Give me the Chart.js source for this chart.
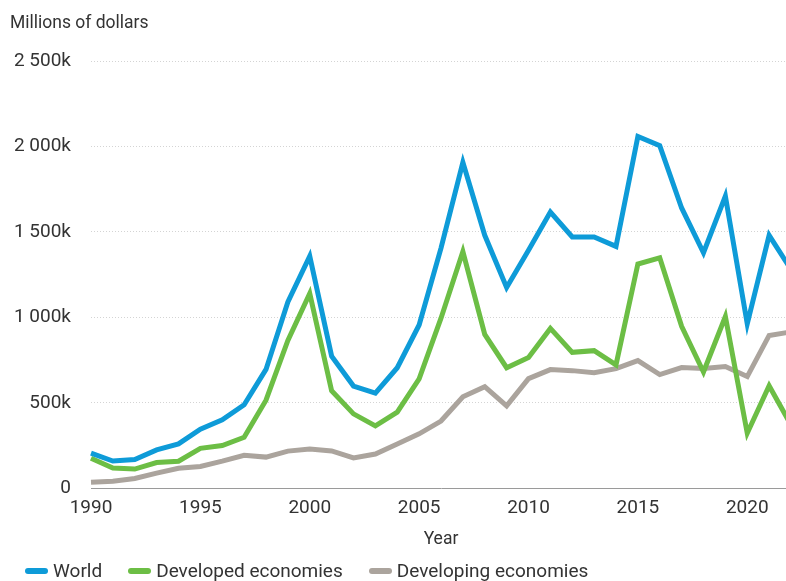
<!DOCTYPE html>
<html>
<head>
<meta charset="utf-8">
<script src="https://cdn.jsdelivr.net/npm/chart.js@4"></script>
<style>
  html, body { margin: 0; padding: 0; background: #fff; overflow: hidden; }
  #wrap { position: relative; width: 800px; height: 581px; }
  #legend { position: absolute; left: 25px; top: 559px; display: flex; font: 19px Roboto, sans-serif; color: #333; white-space: nowrap; }
  .item { display: flex; align-items: center; margin-right: 26px; }
  .swatch { width: 23px; height: 6px; border-radius: 3px; margin-right: 5px; }
</style>
</head>
<body>
<div id="wrap">
  <canvas id="c"></canvas>
  <div id="legend"></div>
</div>
<script>
// FDI inflows, millions of dollars (values in thousands of millions)
const years = [1990,1991,1992,1993,1994,1995,1996,1997,1998,1999,2000,2001,2002,2003,2004,2005,2006,2007,2008,2009,2010,2011,2012,2013,2014,2015,2016,2017,2018,2019,2020,2021,2022];
const world = [205,159,168,224,259,345,400,488,695,1090,1358,773,598,556,705,955,1405,1907,1480,1175,1393,1616,1470,1470,1415,2058,2005,1640,1378,1710,962,1480,1280];
const developed = [175,118,112,150,158,233,250,298,515,865,1140,570,435,365,445,640,995,1385,900,705,765,935,795,805,722,1312,1348,948,680,1005,322,600,370];
const developing = [35,41,57,88,117,127,158,193,182,217,229,218,177,200,259,318,393,535,594,482,641,694,688,676,700,747,665,706,700,712,653,894,915];
const yTicks = [0, 500, 1000, 1500, 2000, 2500];

const seriesNames = ['World', 'Developed economies', 'Developing economies'];
const seriesColors = ['#0e9bd8', '#6cbe45', '#aba49d'];

const fmt = v => v === 0 ? '0' : String(v).replace(/\B(?=(\d{3})+(?!\d))/g, ' ') + 'k';

const chart = new Chart(document.getElementById('c'), {
  type: 'line',
  data: {
    labels: years,
    datasets: [world, developed, developing].map((d, i) => ({
      label: seriesNames[i],
      data: d,
      borderColor: seriesColors[i],
      backgroundColor: seriesColors[i],
      borderWidth: 5,
      pointRadius: 0,
      tension: 0,
      fill: false
    }))
  },
  options: {
    responsive: true,
    maintainAspectRatio: false,
    animation: false,
    layout: { padding: { left: 10, right: 6, top: 0, bottom: 31 } },
    plugins: {
      legend: { display: false },
      tooltip: { enabled: false },
      title: {
        display: true,
        text: 'Millions of dollars',
        align: 'start',
        color: '#333',
        font: { family: 'Roboto', size: 17.5, weight: 'normal' },
        padding: { top: 13, bottom: 27 }
      }
    },
    scales: {
      x: {
        type: 'category',
        grid: { display: false, drawTicks: false },
        border: { display: true, color: '#9a9a9a', width: 1 },
        ticks: {
          autoSkip: false,
          maxRotation: 0,
          padding: 9,
          color: '#333',
          font: { family: 'Roboto', size: 19 },
          callback: function (v, i) { const y = years[i]; return y % 5 === 0 ? String(y) : ''; }
        },
        title: {
          display: true,
          text: 'Year',
          color: '#333',
          font: { family: 'Roboto', size: 17.5 },
          padding: { top: 0, bottom: 0 }
        }
      },
      y: {
        min: 0,
        max: 2500,
        afterFit: s => { s.width = 81; },
        afterBuildTicks: s => { s.ticks = yTicks.map(v => ({ value: v })); },
        grid: { color: '#d4d4d4', lineWidth: 1, drawTicks: false },
        border: { display: false, dash: [1, 2] },
        ticks: {
          padding: 20,
          color: '#333',
          font: { family: 'Roboto', size: 19 },
          callback: v => fmt(v)
        }
      }
    }
  }
});

// legend built from the chart's datasets
const legend = document.getElementById('legend');
chart.data.datasets.forEach(ds => {
  const item = document.createElement('div');
  item.className = 'item';
  const sw = document.createElement('span');
  sw.className = 'swatch';
  sw.style.background = ds.borderColor;
  const tx = document.createElement('span');
  tx.textContent = ds.label;
  item.appendChild(sw);
  item.appendChild(tx);
  legend.appendChild(item);
});
</script>
</body>
</html>
